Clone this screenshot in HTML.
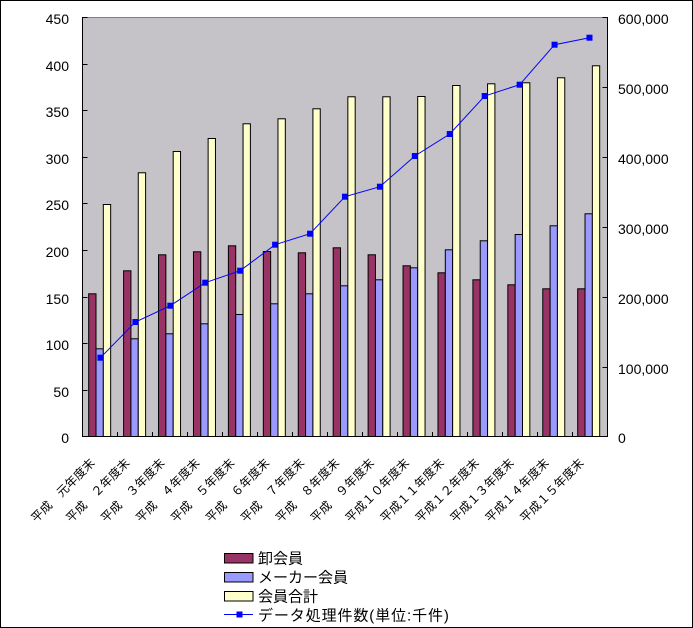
<!DOCTYPE html>
<html><head><meta charset="utf-8"><style>
html,body{margin:0;padding:0;background:#fff;}
svg{display:block;}
</style></head><body>
<svg width="693" height="628" viewBox="0 0 693 628" xmlns="http://www.w3.org/2000/svg">
<rect x="0.5" y="0.5" width="692" height="627" fill="#fff" stroke="#000" stroke-width="1"/>
<!-- plot area -->
<rect x="83" y="17.5" width="524" height="419" fill="#c5c3c7"/>
<line x1="82.5" y1="17.5" x2="607.5" y2="17.5" stroke="#808080" stroke-width="1"/>

<g stroke="#000" stroke-width="1">
<!-- maroon -->
<g fill="#993366">
<rect x="88.67" y="293.8" width="7.33" height="142.7"/>
<rect x="123.60" y="270.8" width="7.33" height="165.7"/>
<rect x="158.53" y="254.8" width="7.33" height="181.7"/>
<rect x="193.46" y="251.8" width="7.33" height="184.7"/>
<rect x="228.39" y="245.8" width="7.33" height="190.7"/>
<rect x="263.32" y="251.5" width="7.33" height="185"/>
<rect x="298.25" y="252.8" width="7.33" height="183.7"/>
<rect x="333.18" y="247.8" width="7.33" height="188.7"/>
<rect x="368.11" y="254.8" width="7.33" height="181.7"/>
<rect x="403.04" y="265.8" width="7.33" height="170.7"/>
<rect x="437.97" y="272.8" width="7.33" height="163.7"/>
<rect x="472.90" y="279.8" width="7.33" height="156.7"/>
<rect x="507.83" y="284.8" width="7.33" height="151.7"/>
<rect x="542.76" y="288.8" width="7.33" height="147.7"/>
<rect x="577.69" y="288.8" width="7.33" height="147.7"/>
</g>
<!-- blue -->
<g fill="#9999ff">
<rect x="96.00" y="348.8" width="7.33" height="87.7"/>
<rect x="130.93" y="338.8" width="7.33" height="97.7"/>
<rect x="165.87" y="333.8" width="7.33" height="102.7"/>
<rect x="200.79" y="323.8" width="7.33" height="112.7"/>
<rect x="235.72" y="314.5" width="7.33" height="122"/>
<rect x="270.65" y="303.8" width="7.33" height="132.7"/>
<rect x="305.58" y="293.8" width="7.33" height="142.7"/>
<rect x="340.51" y="285.8" width="7.33" height="150.7"/>
<rect x="375.44" y="279.8" width="7.33" height="156.7"/>
<rect x="410.37" y="267.8" width="7.33" height="168.7"/>
<rect x="445.30" y="249.8" width="7.33" height="186.7"/>
<rect x="480.23" y="240.8" width="7.33" height="195.7"/>
<rect x="515.16" y="234.5" width="7.33" height="202"/>
<rect x="550.09" y="225.8" width="7.33" height="210.7"/>
<rect x="585.02" y="213.8" width="7.33" height="222.7"/>
</g>
<!-- yellow -->
<g fill="#ffffcc">
<rect x="103.33" y="204.5" width="7.33" height="232"/>
<rect x="138.27" y="172.8" width="7.33" height="263.7"/>
<rect x="173.20" y="151.5" width="7.33" height="285"/>
<rect x="208.13" y="138.5" width="7.33" height="298"/>
<rect x="243.06" y="123.8" width="7.33" height="312.7"/>
<rect x="277.99" y="118.8" width="7.33" height="317.7"/>
<rect x="312.92" y="108.8" width="7.33" height="327.7"/>
<rect x="347.85" y="96.8" width="7.33" height="339.7"/>
<rect x="382.78" y="96.8" width="7.33" height="339.7"/>
<rect x="417.71" y="96.5" width="7.33" height="340"/>
<rect x="452.64" y="85.5" width="7.33" height="351"/>
<rect x="487.57" y="83.8" width="7.33" height="352.7"/>
<rect x="522.50" y="82.8" width="7.33" height="353.7"/>
<rect x="557.43" y="77.8" width="7.33" height="358.7"/>
<rect x="592.36" y="65.8" width="7.33" height="370.7"/>
</g>
</g>

<!-- axes -->
<g stroke="#000" stroke-width="1">
<line x1="82.5" y1="17" x2="82.5" y2="437"/>
<line x1="607.5" y1="17" x2="607.5" y2="437"/>
<line x1="82" y1="436.5" x2="608" y2="436.5"/>
<!-- left ticks -->
<line x1="82.5" y1="17.5" x2="87.5" y2="17.5"/>
<line x1="82.5" y1="64.5" x2="87.5" y2="64.5"/>
<line x1="82.5" y1="110.5" x2="87.5" y2="110.5"/>
<line x1="82.5" y1="157.5" x2="87.5" y2="157.5"/>
<line x1="82.5" y1="203.5" x2="87.5" y2="203.5"/>
<line x1="82.5" y1="250.5" x2="87.5" y2="250.5"/>
<line x1="82.5" y1="297.5" x2="87.5" y2="297.5"/>
<line x1="82.5" y1="343.5" x2="87.5" y2="343.5"/>
<line x1="82.5" y1="390.5" x2="87.5" y2="390.5"/>
<!-- right ticks -->
<line x1="602.5" y1="17.5" x2="607.5" y2="17.5"/>
<line x1="602.5" y1="87.5" x2="607.5" y2="87.5"/>
<line x1="602.5" y1="157.5" x2="607.5" y2="157.5"/>
<line x1="602.5" y1="227.5" x2="607.5" y2="227.5"/>
<line x1="602.5" y1="297.5" x2="607.5" y2="297.5"/>
<line x1="602.5" y1="367.5" x2="607.5" y2="367.5"/>
<!-- bottom ticks -->
<line x1="117.5" y1="432" x2="117.5" y2="436.5"/>
<line x1="152.5" y1="432" x2="152.5" y2="436.5"/>
<line x1="187.5" y1="432" x2="187.5" y2="436.5"/>
<line x1="222.5" y1="432" x2="222.5" y2="436.5"/>
<line x1="257.5" y1="432" x2="257.5" y2="436.5"/>
<line x1="292.5" y1="432" x2="292.5" y2="436.5"/>
<line x1="327.5" y1="432" x2="327.5" y2="436.5"/>
<line x1="362.5" y1="432" x2="362.5" y2="436.5"/>
<line x1="397.5" y1="432" x2="397.5" y2="436.5"/>
<line x1="432.5" y1="432" x2="432.5" y2="436.5"/>
<line x1="467.5" y1="432" x2="467.5" y2="436.5"/>
<line x1="502.5" y1="432" x2="502.5" y2="436.5"/>
<line x1="537.5" y1="432" x2="537.5" y2="436.5"/>
<line x1="572.5" y1="432" x2="572.5" y2="436.5"/>
</g>

<!-- line series -->
<polyline fill="none" stroke="#0000ff" stroke-width="1" points="100.47,357.7 135.40,322 170.33,305.7 205.26,282.7 240.19,270.7 275.12,244.7 310.05,233.7 344.98,196.7 379.91,186.7 414.84,156 449.77,134 484.70,96 519.63,84.7 554.56,44.7 589.49,37.7"/>
<g fill="#0000ff">
<rect x="97.47" y="354.7" width="6" height="6"/>
<rect x="132.40" y="319" width="6" height="6"/>
<rect x="167.33" y="302.7" width="6" height="6"/>
<rect x="202.26" y="279.7" width="6" height="6"/>
<rect x="237.19" y="267.7" width="6" height="6"/>
<rect x="272.12" y="241.7" width="6" height="6"/>
<rect x="307.05" y="230.7" width="6" height="6"/>
<rect x="341.98" y="193.7" width="6" height="6"/>
<rect x="376.91" y="183.7" width="6" height="6"/>
<rect x="411.84" y="153" width="6" height="6"/>
<rect x="446.77" y="131" width="6" height="6"/>
<rect x="481.70" y="93" width="6" height="6"/>
<rect x="516.63" y="81.7" width="6" height="6"/>
<rect x="551.56" y="41.7" width="6" height="6"/>
<rect x="586.49" y="34.7" width="6" height="6"/>
</g>

<!-- left labels -->
<g font-family="Liberation Sans, sans-serif" font-size="14" fill="#000" text-anchor="end">
<text x="69" y="24">450</text>
<text x="69" y="71">400</text>
<text x="69" y="117">350</text>
<text x="69" y="164">300</text>
<text x="69" y="210">250</text>
<text x="69" y="257">200</text>
<text x="69" y="304">150</text>
<text x="69" y="350">100</text>
<text x="69" y="397">50</text>
<text x="69" y="443">0</text>
</g>
<!-- right labels -->
<g font-family="Liberation Sans, sans-serif" font-size="14" fill="#000">
<text x="618" y="24">600,000</text>
<text x="618" y="94">500,000</text>
<text x="618" y="164">400,000</text>
<text x="618" y="234">300,000</text>
<text x="618" y="304">200,000</text>
<text x="618" y="374">100,000</text>
<text x="618" y="443">0</text>
</g>

<!-- x labels -->
<g font-family="Liberation Sans, 'Noto Sans CJK JP', sans-serif" font-size="12" fill="#000" text-anchor="end" dominant-baseline="central">
<text transform="translate(92.7,460.8) rotate(-45)">平成　元年度末</text>
<text transform="translate(127.6,460.8) rotate(-45)">平成　２年度末</text>
<text transform="translate(162.5,460.8) rotate(-45)">平成　３年度末</text>
<text transform="translate(197.5,460.8) rotate(-45)">平成　４年度末</text>
<text transform="translate(232.4,460.8) rotate(-45)">平成　５年度末</text>
<text transform="translate(267.3,460.8) rotate(-45)">平成　６年度末</text>
<text transform="translate(302.3,460.8) rotate(-45)">平成　７年度末</text>
<text transform="translate(337.2,460.8) rotate(-45)">平成　８年度末</text>
<text transform="translate(372.1,460.8) rotate(-45)">平成　９年度末</text>
<text transform="translate(407.0,460.8) rotate(-45)">平成１０年度末</text>
<text transform="translate(442.0,460.8) rotate(-45)">平成１１年度末</text>
<text transform="translate(476.9,460.8) rotate(-45)">平成１２年度末</text>
<text transform="translate(511.8,460.8) rotate(-45)">平成１３年度末</text>
<text transform="translate(546.8,460.8) rotate(-45)">平成１４年度末</text>
<text transform="translate(581.7,460.8) rotate(-45)">平成１５年度末</text>
</g>

<!-- legend -->
<g stroke="#000" stroke-width="1">
<rect x="224.5" y="553.5" width="28.5" height="9.5" fill="#993366"/>
<rect x="224.5" y="572.5" width="28.5" height="9.5" fill="#9999ff"/>
<rect x="224.5" y="591.5" width="28.5" height="9.5" fill="#ffffcc"/>
</g>
<line x1="224" y1="614.5" x2="253" y2="614.5" stroke="#0000ff" stroke-width="1"/>
<rect x="236.5" y="611.5" width="6" height="6" fill="#0000ff"/>
<g font-family="Liberation Sans, 'Noto Sans CJK JP', sans-serif" font-size="15" fill="#000">
<text x="258" y="563.5">卸会員</text>
<text x="258" y="582.5">メーカー会員</text>
<text x="258" y="601.5">会員合計</text>
<text x="258" y="620.5" letter-spacing="0.9">データ処理件数(単位:千件)</text>
</g>
</svg>
</body></html>
